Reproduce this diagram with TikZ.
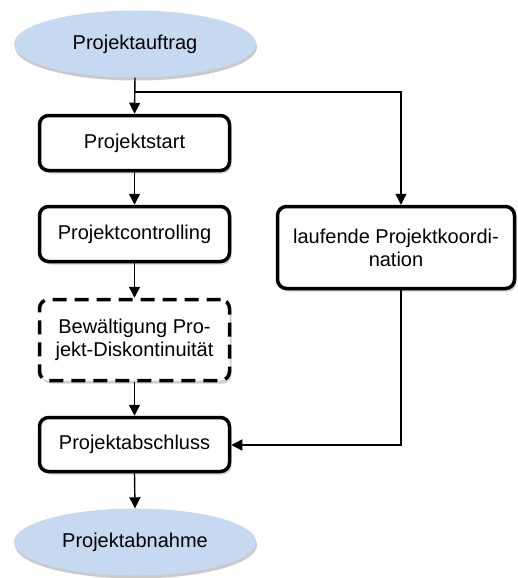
\documentclass[tikz,border=0pt]{standalone}
\usepackage{fontspec}
\setmainfont{Liberation Sans}
\usetikzlibrary{arrows.meta,shadows,shapes.geometric}
\definecolor{ellblue}{HTML}{C6D9F1}
\tikzset{
  every node/.style={font=\fontsize{20}{23}\selectfont},
  ell/.style={ellipse,fill=ellblue,minimum width=242pt,minimum height=67pt,inner sep=0pt,
     drop shadow={shadow xshift=1pt,shadow yshift=-3pt,opacity=0.35,fill=black!60}},
  stepbox/.style={draw=black,line width=3.5pt,rounded corners=9pt,fill=white,align=center,
     minimum width=190pt,inner sep=2pt,
     drop shadow={shadow xshift=2pt,shadow yshift=-3pt,opacity=0.3,fill=black!60}},
  conn/.style={line width=1.4pt,-{Triangle[length=11pt,width=11pt]}},
  plain/.style={line width=1.4pt}
}
\begin{document}
\begin{tikzpicture}[x=1pt,y=-1pt]
\useasboundingbox (0,0) rectangle (517,578);
\node[ell] (auftrag) at (135,44) {Projektauftrag};
\node[stepbox,minimum height=55pt] (start) at (134.5,143) {Projektstart};
\node[stepbox,minimum height=55pt] (controlling) at (134.5,234) {Projektcontrolling};
\node[stepbox,dashed,dash pattern=on 14pt off 8pt,minimum height=81pt] (bew) at (134.5,340) {Bewältigung Pro-\\jekt-Diskontinuität};
\node[stepbox,minimum height=54pt] (abschluss) at (134.5,444.5) {Projektabschluss};
\node[stepbox,minimum width=237pt,minimum height=82pt] (lauf) at (396,247.5) {laufende Projektkoordi-\\nation};
\node[ell] (abnahme) at (135,542) {Projektabnahme};
\coordinate (j) at (135,92);
\coordinate (jr) at (401,92);
\coordinate (lb) at (401,290);
\coordinate (lc) at (401,445);
\draw[conn] (auftrag.south) -- (start.north);
\draw[conn] (jr -| j) -- (jr) -- (jr |- lauf.north);
\draw[conn] (start.south) -- (controlling.north);
\draw[conn] (controlling.south) -- (bew.north);
\draw[conn] (bew.south) -- (abschluss.north);
\draw[conn] (lb |- lauf.south) -- (lc) -- (abschluss.east |- lc);
\draw[conn] (abschluss.south) -- (abnahme.north);
\end{tikzpicture}
\end{document}
